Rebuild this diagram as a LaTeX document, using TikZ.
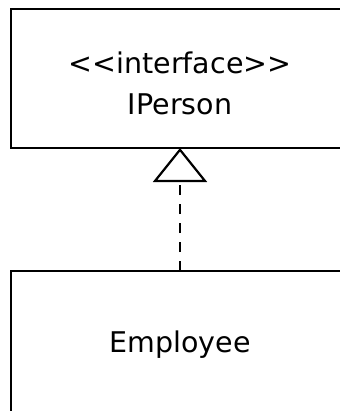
\documentclass[tikz,border=0pt]{standalone}
\usepackage{fontspec}
\newfontfamily\umlfont{DejaVu Sans}
\usetikzlibrary{arrows.meta}
\begin{document}
\begin{tikzpicture}[x=1bp,y=-1bp,
  classbox/.style={draw=black,line width=2.2bp,fill=white},
  lbl/.style={font=\umlfont\fontsize{28.5bp}{41bp}\selectfont,align=center,inner sep=0pt},
  realize/.style={draw=black,line width=2.2bp,dash pattern=on 10bp off 9bp,
    -{Triangle[open,width=54bp,length=34bp,line width=2.2bp,fill=white]}}]
\useasboundingbox (0,0) rectangle (340,411);
\clip (0,0) rectangle (340,411);
\draw[classbox] (11,9) rectangle (349,148);
\node[lbl] (iperson) at (180,83) {<<interface>>\\IPerson};
\coordinate (topbot) at (180,148);
\draw[classbox] (11,271) rectangle (349,430);
\node[lbl] (employee) at (180,345) {Employee};
\coordinate (empTop) at (180,271);
\draw[realize] (empTop) -- (topbot);
\end{tikzpicture}
\end{document}
